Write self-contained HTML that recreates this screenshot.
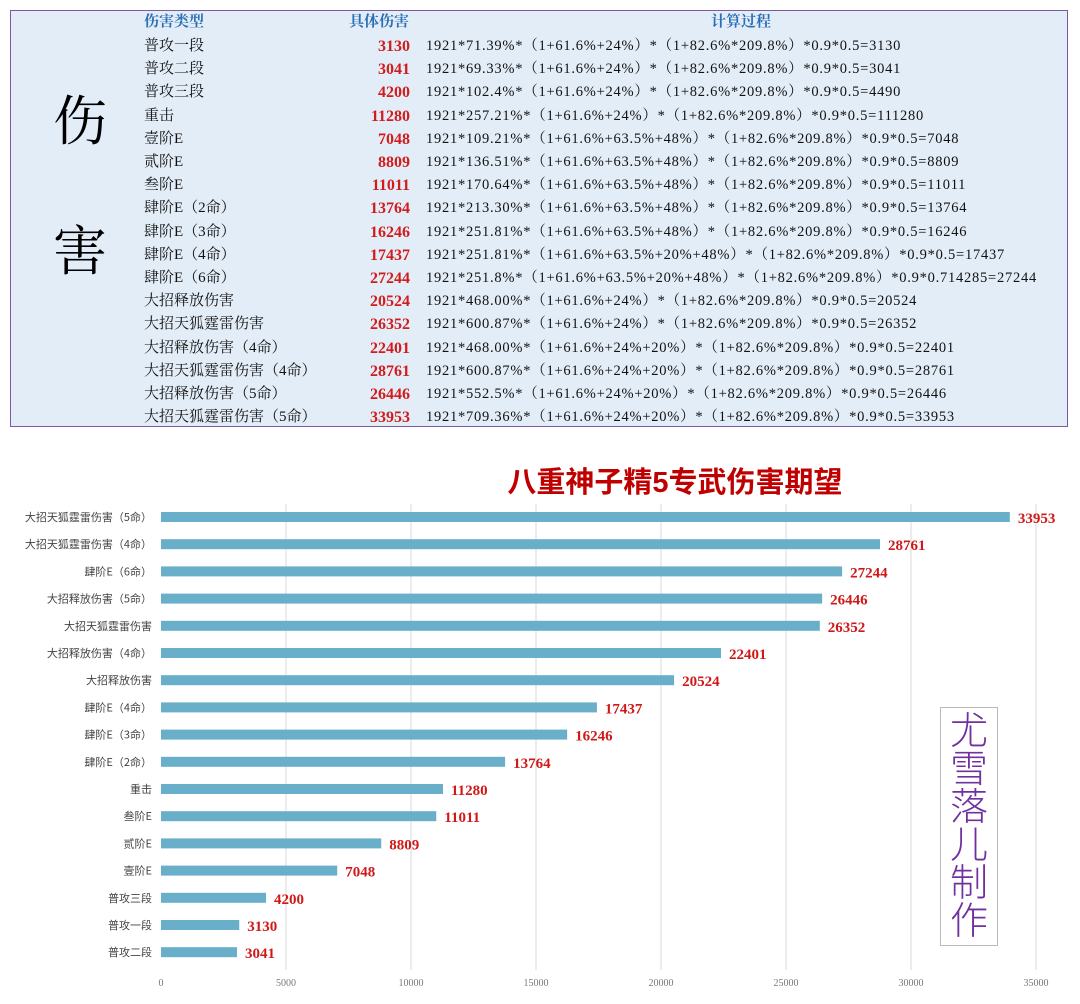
<!DOCTYPE html>
<html><head><meta charset="utf-8"><style>
body{margin:0;width:1080px;height:1004px;background:#fff;position:relative;overflow:hidden;font-family:"Liberation Serif","Noto Serif CJK SC",serif;}
#tbl{position:absolute;left:10px;top:10px;width:1058px;height:417px;background:#e3edf8;border:1.5px solid #7b5b9e;box-sizing:border-box}
.r{position:absolute;height:23px;line-height:23px;font-size:15px;white-space:nowrap}
.c1{left:133px;color:#111}
.c2{left:330px;width:69px;text-align:right;color:#d21c1c;font-weight:bold;font-size:16px;font-family:"Liberation Serif",serif}
.c3{left:415px;color:#111;font-size:14.5px;letter-spacing:0.75px}
.h{color:#2a6fb5;font-weight:bold}
.big{position:absolute;left:42px;font-size:54px;color:#000;font-family:"Noto Serif CJK SC",serif}
</style></head><body>
<div id="tbl">
<div class="big" style="top:68px">伤</div>
<div class="big" style="top:198px">害</div>
<div class="r c1 h" style="top:0px">伤害类型</div>
<div class="r h" style="top:0px;left:338px">具体伤害</div>
<div class="r h" style="top:0px;left:700px">计算过程</div>
</div>
<svg width="1080" height="1004" style="position:absolute;left:0;top:0" font-family="Liberation Serif, Noto Serif CJK SC, serif">
<text x="675" y="492" text-anchor="middle" font-family="Liberation Sans, Noto Sans CJK SC, sans-serif" font-weight="bold" font-size="29" fill="#c00000">八重神子精5专武伤害期望</text>
<g stroke="#d9d9d9" stroke-width="1">
<line x1="286" y1="504" x2="286" y2="970"/><line x1="411" y1="504" x2="411" y2="970"/><line x1="536" y1="504" x2="536" y2="970"/><line x1="661" y1="504" x2="661" y2="970"/><line x1="786" y1="504" x2="786" y2="970"/><line x1="911" y1="504" x2="911" y2="970"/><line x1="1036" y1="504" x2="1036" y2="970"/>
</g>
<g id="bars"></g>
<g font-size="10" fill="#777" text-anchor="middle">
<text x="161" y="986">0</text><text x="286" y="986">5000</text><text x="411" y="986">10000</text><text x="536" y="986">15000</text><text x="661" y="986">20000</text><text x="786" y="986">25000</text><text x="911" y="986">30000</text><text x="1036" y="986">35000</text>
</g>
<rect x="940.5" y="707.5" width="57" height="238" fill="#fff" stroke="#bbb"/>
<g font-size="38" fill="#7030a0" text-anchor="middle" font-family="Noto Sans CJK SC, sans-serif" font-weight="300">
<text x="969" y="744">尤</text><text x="969" y="782">雪</text><text x="969" y="820">落</text><text x="969" y="858">儿</text><text x="969" y="896">制</text><text x="969" y="934">作</text>
</g>
</svg>
<script>
var T=[["普攻一段",3130,"1921*71.39%*（1+61.6%+24%）*（1+82.6%*209.8%）*0.9*0.5=3130"],
["普攻二段",3041,"1921*69.33%*（1+61.6%+24%）*（1+82.6%*209.8%）*0.9*0.5=3041"],
["普攻三段",4200,"1921*102.4%*（1+61.6%+24%）*（1+82.6%*209.8%）*0.9*0.5=4490"],
["重击",11280,"1921*257.21%*（1+61.6%+24%）*（1+82.6%*209.8%）*0.9*0.5=111280"],
["壹阶E",7048,"1921*109.21%*（1+61.6%+63.5%+48%）*（1+82.6%*209.8%）*0.9*0.5=7048"],
["贰阶E",8809,"1921*136.51%*（1+61.6%+63.5%+48%）*（1+82.6%*209.8%）*0.9*0.5=8809"],
["叁阶E",11011,"1921*170.64%*（1+61.6%+63.5%+48%）*（1+82.6%*209.8%）*0.9*0.5=11011"],
["肆阶E（2命）",13764,"1921*213.30%*（1+61.6%+63.5%+48%）*（1+82.6%*209.8%）*0.9*0.5=13764"],
["肆阶E（3命）",16246,"1921*251.81%*（1+61.6%+63.5%+48%）*（1+82.6%*209.8%）*0.9*0.5=16246"],
["肆阶E（4命）",17437,"1921*251.81%*（1+61.6%+63.5%+20%+48%）*（1+82.6%*209.8%）*0.9*0.5=17437"],
["肆阶E（6命）",27244,"1921*251.8%*（1+61.6%+63.5%+20%+48%）*（1+82.6%*209.8%）*0.9*0.714285=27244"],
["大招释放伤害",20524,"1921*468.00%*（1+61.6%+24%）*（1+82.6%*209.8%）*0.9*0.5=20524"],
["大招天狐霆雷伤害",26352,"1921*600.87%*（1+61.6%+24%）*（1+82.6%*209.8%）*0.9*0.5=26352"],
["大招释放伤害（4命）",22401,"1921*468.00%*（1+61.6%+24%+20%）*（1+82.6%*209.8%）*0.9*0.5=22401"],
["大招天狐霆雷伤害（4命）",28761,"1921*600.87%*（1+61.6%+24%+20%）*（1+82.6%*209.8%）*0.9*0.5=28761"],
["大招释放伤害（5命）",26446,"1921*552.5%*（1+61.6%+24%+20%）*（1+82.6%*209.8%）*0.9*0.5=26446"],
["大招天狐霆雷伤害（5命）",33953,"1921*709.36%*（1+61.6%+24%+20%）*（1+82.6%*209.8%）*0.9*0.5=33953"]];
var tb=document.getElementById('tbl'),h='';
T.forEach(function(r,i){var y=24+i*23.2;
h+='<div class="r c1" style="top:'+y+'px">'+r[0]+'</div><div class="r c2" style="top:'+y+'px">'+r[1]+'</div><div class="r c3" style="top:'+y+'px">'+r[2]+'</div>';});
tb.insertAdjacentHTML('beforeend',h);
var order=[16,14,10,15,12,13,11,9,8,7,3,6,5,4,2,0,1];
var s='';
order.forEach(function(k,i){var r=T[k],cy=517+i*27.2,w=r[1]/5000*125;
s+='<rect x="161" y="'+(cy-5)+'" width="'+w+'" height="10" fill="#6aafc9"/>';
s+='<text x="'+(161+w+8)+'" y="'+(cy+6)+'" font-size="15" font-weight="bold" fill="#d01818">'+r[1]+'</text>';
s+='<text x="152" y="'+(cy+4)+'" font-size="11" fill="#444" text-anchor="end" font-family="Noto Sans CJK SC, sans-serif">'+r[0]+'</text>';});
document.getElementById('bars').innerHTML=s;
</script>
</body></html>
